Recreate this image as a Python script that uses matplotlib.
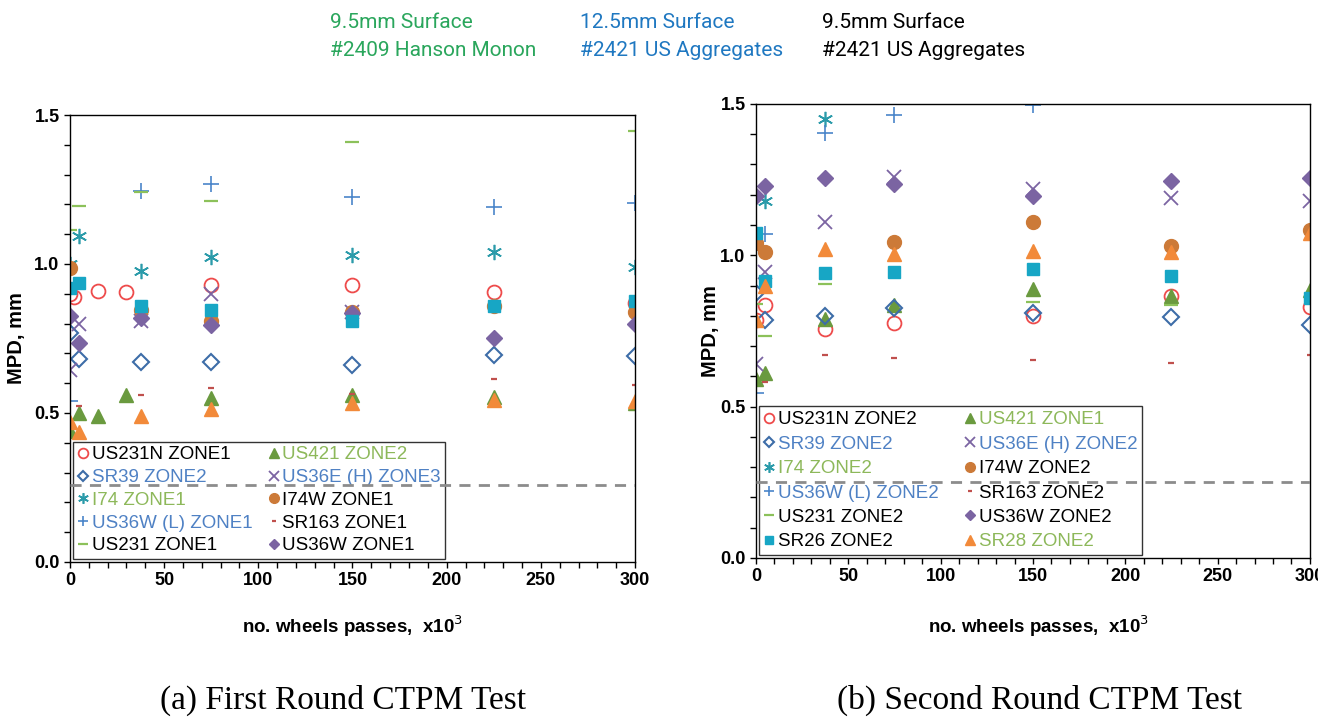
import matplotlib
matplotlib.use('Agg')
import matplotlib.pyplot as plt
from matplotlib import font_manager
from matplotlib.ticker import MultipleLocator, FormatStrFormatter

# ---- data (x = wheel passes x10^3, y = MPD mm)
# (a) first round
a_us231n_x = [0, 2, 15, 30, 75, 150, 225, 300]
a_us231n_y = [0.90, 0.89, 0.91, 0.905, 0.93, 0.93, 0.905, 0.87]
a_us421_x = [0, 5, 15, 30, 75, 150, 225, 300]
a_us421_y = [0.44, 0.50, 0.49, 0.56, 0.55, 0.56, 0.555, 0.535]
a_sr39_x = [0, 5, 37.5, 75, 150, 225, 300]
a_sr39_y = [0.77, 0.68, 0.67, 0.67, 0.66, 0.695, 0.69]
a_us36e_x = [0, 5, 37.5, 75, 150]
a_us36e_y = [0.645, 0.80, 0.81, 0.90, 0.84]
a_i74_x = [0, 5, 37.5, 75, 150, 225, 300]
a_i74_y = [1.0, 1.095, 0.975, 1.025, 1.03, 1.04, 0.99]
a_i74w_x = [0, 37.5, 75, 150, 225, 300]
a_i74w_y = [0.985, 0.845, 0.81, 0.84, 0.86, 0.84]
a_us36wl_x = [0, 37.5, 75, 150, 225, 300]
a_us36wl_y = [0.54, 1.245, 1.27, 1.225, 1.19, 1.205]
a_sr163_x = [5, 37.5, 75, 150, 225, 300]
a_sr163_y = [0.525, 0.56, 0.585, 0.565, 0.615, 0.595]
a_us231_x = [0, 5, 37.5, 75, 150, 300]
a_us231_y = [1.115, 1.195, 1.24, 1.21, 1.41, 1.445]
a_us36w_x = [0, 5, 37.5, 75, 150, 225, 300]
a_us36w_y = [0.825, 0.735, 0.82, 0.795, 0.835, 0.75, 0.80]
a_sr26_x = [0, 5, 37.5, 75, 150, 225, 300]
a_sr26_y = [0.92, 0.935, 0.86, 0.845, 0.81, 0.86, 0.875]
a_sr28_x = [0, 5, 37.5, 75, 150, 225, 300]
a_sr28_y = [0.47, 0.435, 0.49, 0.515, 0.535, 0.545, 0.54]

# (b) second round
b_x = [0, 5, 37.5, 75, 150, 225, 300]
b_us231n_y = [0.785, 0.835, 0.755, 0.775, 0.80, 0.865, 0.83]
b_us421_y = [0.59, 0.61, 0.79, 0.835, 0.89, 0.865, 0.885]
b_sr39_y = [0.875, 0.785, 0.80, 0.825, 0.81, 0.795, 0.77]
b_us36e_y = [0.64, 0.945, 1.11, 1.26, 1.22, 1.19, 1.18]
b_i74_x = [5, 37.5]
b_i74_y = [1.18, 1.45]
b_i74w_x = [0, 5, 75, 150, 225, 300]
b_i74w_y = [1.04, 1.01, 1.045, 1.11, 1.03, 1.085]
b_us36wl_x = [0, 5, 37.5, 75, 150]
b_us36wl_y = [0.545, 1.07, 1.405, 1.465, 1.497]
b_sr163_x = [5, 37.5, 75, 150, 225, 300]
b_sr163_y = [0.58, 0.67, 0.66, 0.655, 0.645, 0.67]
b_us231_x = [0, 5, 37.5, 150, 225]
b_us231_y = [0.84, 0.735, 0.905, 0.845, 0.835]
b_us36w_y = [1.195, 1.23, 1.255, 1.235, 1.195, 1.245, 1.255]
b_sr26_y = [1.075, 0.915, 0.94, 0.945, 0.955, 0.93, 0.86]
b_sr28_y = [0.785, 0.90, 1.02, 1.005, 1.015, 1.01, 1.075]

a_threshold = 0.26
b_threshold = 0.25

# colours
RED = '#EE4B4B'
GREEN_TRI = '#6A9A3F'
BLUE_DIA = '#3D6DA8'
PURPLE = '#7B64A2'
TEAL = '#2B9BAA'
BROWN = '#CC7A38'
BLUE_PLUS = '#4A85C9'
RED_DASH = '#C0504D'
GREEN_DASH = '#8CC15A'
CYAN = '#17A6C5'
ORANGE = '#F28A3A'
TXT_GREEN = '#8DB85A'
TXT_BLUE = '#4F81C4'

plt.rcParams['font.family'] = ['Liberation Sans', 'DejaVu Sans']

fig = plt.figure(figsize=(13.18, 7.17), dpi=100)
ax1 = fig.add_axes([0.0531, 0.2162, 0.4287, 0.6234])
ax2 = fig.add_axes([0.5736, 0.2218, 0.4203, 0.6332])

ASTER = (6, 2, 0)

s = {
    'us231n': dict(marker='o', ms=10, mfc='none', mec=RED, mew=1.3),
    'us421': dict(marker='^', ms=10, color=GREEN_TRI),
    'sr39': dict(marker='D', ms=8, mfc='none', mec=BLUE_DIA, mew=1.5),
    'us36e': dict(marker='x', ms=10, color=PURPLE, mew=1.3),
    'i74': dict(marker=ASTER, ms=11, color=TEAL, mew=1.2),
    'i74w': dict(marker='o', ms=10, color=BROWN),
    'us36wl': dict(marker='+', ms=11, color=BLUE_PLUS, mew=1.2),
    'sr163': dict(marker='_', ms=5, color=RED_DASH, mew=1.6),
    'us231': dict(marker='_', ms=10, color=GREEN_DASH, mew=1.6),
    'us36w': dict(marker='D', ms=8, color=PURPLE),
    'sr26': dict(marker='s', ms=9, color=CYAN),
    'sr28': dict(marker='^', ms=10, color=ORANGE),
}

panel_a = [
    (a_us231n_x, a_us231n_y, 'US231N ZONE1', s['us231n']),
    (a_us421_x, a_us421_y, 'US421 ZONE2', s['us421']),
    (a_sr39_x, a_sr39_y, 'SR39 ZONE2', s['sr39']),
    (a_us36e_x, a_us36e_y, 'US36E (H) ZONE3', s['us36e']),
    (a_i74_x, a_i74_y, 'I74 ZONE1', s['i74']),
    (a_i74w_x, a_i74w_y, 'I74W ZONE1', s['i74w']),
    (a_us36wl_x, a_us36wl_y, 'US36W (L) ZONE1', s['us36wl']),
    (a_sr163_x, a_sr163_y, 'SR163 ZONE1', s['sr163']),
    (a_us231_x, a_us231_y, 'US231 ZONE1', s['us231']),
    (a_us36w_x, a_us36w_y, 'US36W ZONE1', s['us36w']),
    (a_sr26_x, a_sr26_y, '_nolegend_', s['sr26']),
    (a_sr28_x, a_sr28_y, '_nolegend_', s['sr28']),
]
panel_b = [
    (b_x, b_us231n_y, 'US231N ZONE2', s['us231n']),
    (b_x, b_us421_y, 'US421 ZONE1', s['us421']),
    (b_x, b_sr39_y, 'SR39 ZONE2', s['sr39']),
    (b_x, b_us36e_y, 'US36E (H) ZONE2', s['us36e']),
    (b_i74_x, b_i74_y, 'I74 ZONE2', s['i74']),
    (b_i74w_x, b_i74w_y, 'I74W ZONE2', s['i74w']),
    (b_us36wl_x, b_us36wl_y, 'US36W (L) ZONE2', s['us36wl']),
    (b_sr163_x, b_sr163_y, 'SR163 ZONE2', s['sr163']),
    (b_us231_x, b_us231_y, 'US231 ZONE2', s['us231']),
    (b_x, b_us36w_y, 'US36W ZONE2', s['us36w']),
    (b_x, b_sr26_y, 'SR26 ZONE2', s['sr26']),
    (b_x, b_sr28_y, 'SR28 ZONE2', s['sr28']),
]
for ax, panel in [(ax1, panel_a), (ax2, panel_b)]:
    for x, y, label, st in panel:
        ax.plot(x, y, linestyle='none', label=label, **st)

ax1.axhline(a_threshold, color='#8C8C8C', linestyle=(0, (4, 3)), linewidth=2, zorder=6)
ax2.axhline(b_threshold, color='#8C8C8C', linestyle=(0, (4, 3)), linewidth=2, zorder=6)

a_colors = ['black', TXT_GREEN, TXT_BLUE, TXT_BLUE, TXT_GREEN,
            'black', TXT_BLUE, 'black', 'black', 'black']
b_colors = ['black', TXT_GREEN, TXT_BLUE, TXT_BLUE, TXT_GREEN, 'black',
            TXT_BLUE, 'black', 'black', 'black', 'black', TXT_GREEN]

for ax, cols, lsp, csp in [(ax1, a_colors, 0.3, 0.85), (ax2, b_colors, 0.39, 1.4)]:
    h, l = ax.get_legend_handles_labels()
    # row-wise fill like excel: reorder for matplotlib's column-wise fill
    order = list(range(0, len(h), 2)) + list(range(1, len(h), 2))
    leg = ax.legend([h[i] for i in order], [l[i] for i in order], ncol=2,
                    loc='lower left', fontsize=13.5, markerscale=0.7,
                    handlelength=0.6, handletextpad=0.15, columnspacing=csp,
                    labelspacing=lsp, borderpad=0.25, borderaxespad=0.15,
                    frameon=True, fancybox=False, edgecolor='black')
    leg.get_frame().set_linewidth(1.0)
    for t, c in zip(leg.get_texts(), [cols[i] for i in order]):
        t.set_color(c)

    ax.set_xlim(0, 300)
    ax.set_ylim(0, 1.5)
    ax.xaxis.set_major_locator(MultipleLocator(50))
    ax.xaxis.set_minor_locator(MultipleLocator(10))
    ax.yaxis.set_major_locator(MultipleLocator(0.5))
    ax.yaxis.set_minor_locator(MultipleLocator(0.1))
    ax.yaxis.set_major_formatter(FormatStrFormatter('%.1f'))
    ax.tick_params(which='both', direction='out', length=4, width=1, labelsize=13)
    for lab in ax.get_xticklabels() + ax.get_yticklabels():
        lab.set_fontweight('bold')
    for sp in ax.spines.values():
        sp.set_linewidth(1.0)
    ax.set_ylabel('MPD, mm', fontsize=14.5, fontweight='bold')
    ax.set_xlabel('no. wheels passes,  x10$^3$', fontsize=13.5, fontweight='bold')

ax1.yaxis.set_label_coords(-0.078, 0.5)
ax2.yaxis.set_label_coords(-0.065, 0.5)
ax1.xaxis.set_label_coords(0.5, -0.116)
ax2.xaxis.set_label_coords(0.51, -0.123)

# header text above the panels
names = {f.name for f in font_manager.fontManager.ttflist}
hdr_font = 'Liberation Sans Narrow' if 'Liberation Sans Narrow' in names else 'Roboto'
hdr = [('9.5mm Surface', '#2AA65C', 330, 22), ('#2409 Hanson Monon', '#2AA65C', 330, 50),
       ('12.5mm Surface', '#1F78C1', 580, 22), ('#2421 US Aggregates', '#1F78C1', 580, 50),
       ('9.5mm Surface', 'black', 822, 22), ('#2421 US Aggregates', 'black', 822, 50)]
for txt, c, px, py in hdr:
    fig.text(px / 1318, 1 - py / 717, txt, color=c, fontsize=15, family=hdr_font,
             ha='left', va='center')

# captions
fig.text(343 / 1318, 1 - 700 / 717, '(a) First Round CTPM Test', fontsize=24,
         family='Liberation Serif', ha='center', va='center')
fig.text(1040 / 1318, 1 - 700 / 717, '(b) Second Round CTPM Test', fontsize=24,
         family='Liberation Serif', ha='center', va='center')

plt.savefig('out.png', dpi=100)
